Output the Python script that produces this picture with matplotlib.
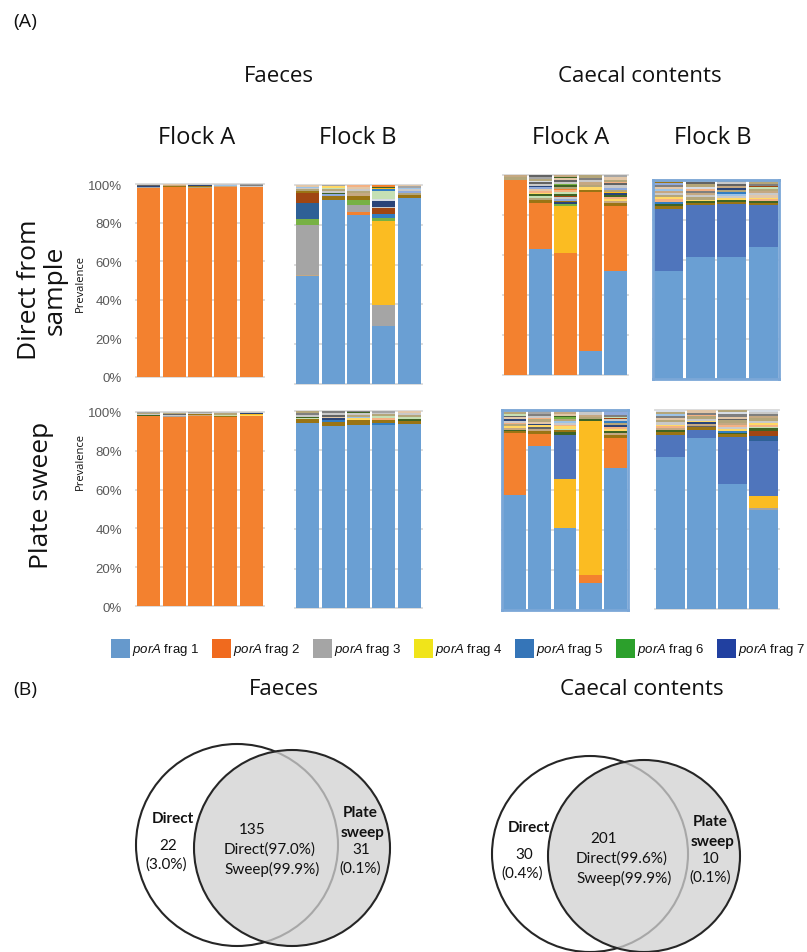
import matplotlib.pyplot as plt
from matplotlib.patches import Circle, Rectangle

plt.rcParams['mathtext.fontset'] = 'custom'
plt.rcParams['mathtext.it'] = 'Liberation Sans:italic'
plt.rcParams['mathtext.rm'] = 'Liberation Sans'

W, H = 807, 953

# porA fragment colours (Excel-style cycle), keyed by fragment number
FRAG_COLOURS = {
    1: '#6a9fd3', 2: '#f3812f', 3: '#a5a5a5', 4: '#fbbc22', 5: '#4f75bc',
    6: '#77b144', 7: '#2e6096', 8: '#a04612', 9: '#636363', 10: '#9a7414',
    11: '#2a4478', 12: '#3f6424', 13: '#9dc3e6', 14: '#f4b183', 15: '#c9c9c9',
    16: '#ffd966', 17: '#8faadc', 18: '#c5e0b4', 19: '#327dc2', 20: '#c5a882',
    21: '#b4a67a', 22: '#7f7f7f', 23: '#d6dce5', 24: '#e2c7a8',
}
LEGEND_COLOURS = ['#6699cc', '#f06a1e', '#a5a5a5', '#f0e41a', '#3575b8', '#2ca02c', '#2140a0']
LEGEND_FRAGS = [1, 2, 3, 4, 5, 6, 7]

# each bar = list of (fragment, prevalence %) from bottom to top
FAECES_A_DIRECT = [
    [(2, 97.9), (3, 0.5), (11, 0.6), (9, 0.5), (15, 0.5)],
    [(2, 98.7), (10, 0.5), (20, 0.4), (24, 0.4)],
    [(2, 98.0), (21, 0.6), (10, 0.5), (11, 0.4), (15, 0.5)],
    [(2, 98.7), (20, 0.3), (13, 0.6), (15, 0.4)],
    [(2, 98.7), (15, 0.3), (22, 0.5), (3, 0.5)],
]
FAECES_B_DIRECT = [
    [(1, 54.2), (20, 0.5), (3, 25.3), (6, 3.0), (7, 8.0), (8, 5.0), (10, 1.0),
     (21, 0.8), (15, 0.8), (13, 0.6), (24, 0.8)],
    [(1, 92.6), (10, 2.0), (17, 1.0), (12, 0.5), (15, 1.0), (21, 0.8), (18, 0.7),
     (16, 0.7), (3, 0.7)],
    [(1, 84.8), (2, 1.8), (3, 3.4), (6, 2.7), (10, 1.8), (20, 1.5), (21, 1.2),
     (15, 1.0), (24, 1.0), (14, 0.8)],
    [(1, 29.2), (3, 10.6), (4, 42.3), (6, 1.3), (19, 2.0), (8, 2.8), (15, 0.5),
     (11, 3.3), (23, 0.8), (18, 4.2), (19, 0.8), (4, 0.7), (12, 0.7), (2, 0.8)],
    [(1, 93.5), (10, 1.5), (21, 1.0), (17, 0.8), (15, 1.0), (13, 0.8), (3, 0.7),
     (24, 0.7)],
]
CAECAL_A_DIRECT = [
    [(2, 97.6), (21, 1.2), (20, 1.2)],
    [(1, 63.2), (2, 22.6), (10, 1.7), (21, 1.0), (18, 0.8), (12, 1.0), (16, 0.8),
     (14, 1.0), (24, 0.9), (17, 0.8), (11, 0.8), (15, 1.0), (9, 0.8), (23, 0.8),
     (21, 1.0), (3, 1.0), (9, 0.8)],
    [(2, 61.0), (4, 23.3), (6, 1.2), (11, 0.8), (10, 0.9), (17, 0.8), (15, 1.0),
     (8, 0.6), (12, 0.8), (18, 0.9), (14, 1.0), (2, 0.7), (21, 1.0), (12, 0.8),
     (6, 0.7), (15, 1.0), (9, 0.8), (24, 1.0), (12, 0.8), (20, 0.9)],
    [(1, 12.0), (2, 79.7), (10, 1.0), (16, 1.2), (21, 1.3), (20, 1.2), (15, 1.0),
     (22, 1.3), (21, 1.3)],
    [(1, 52.2), (2, 32.5), (10, 1.2), (20, 1.0), (16, 0.9), (14, 1.2), (12, 1.0),
     (11, 0.8), (4, 0.9), (21, 1.0), (17, 1.0), (15, 1.2), (9, 1.0), (14, 0.8),
     (21, 1.0), (24, 1.3), (3, 1.0)],
]
CAECAL_B_DIRECT = [
    [(1, 54.5), (5, 30.8), (10, 1.6), (12, 1.2), (19, 1.0), (14, 1.2), (16, 1.0),
     (21, 1.0), (15, 1.2), (20, 1.0), (13, 1.0), (24, 1.0), (22, 1.0), (17, 0.8),
     (10, 0.9), (21, 0.8)],
    [(1, 61.3), (5, 25.9), (10, 1.2), (12, 0.8), (16, 1.0), (21, 1.1), (15, 1.2),
     (20, 1.0), (22, 1.2), (14, 1.0), (23, 0.9), (21, 1.2), (9, 1.0), (24, 1.2)],
    [(1, 61.3), (5, 26.4), (10, 1.2), (12, 1.3), (16, 0.8), (15, 1.2), (13, 1.0),
     (19, 0.8), (21, 1.2), (11, 0.8), (20, 1.0), (9, 0.8), (15, 1.0), (21, 1.2)],
    [(1, 66.3), (5, 20.9), (10, 1.0), (12, 1.0), (14, 1.2), (16, 0.8), (24, 1.2),
     (15, 1.0), (20, 1.0), (21, 1.2), (18, 0.8), (8, 0.8), (22, 1.0), (21, 0.8),
     (3, 1.0)],
]
FAECES_A_SWEEP = [
    [(2, 98.1), (12, 0.4), (15, 0.6), (21, 0.5), (3, 0.4)],
    [(2, 97.3), (3, 0.8), (15, 0.5), (9, 0.4), (21, 0.5), (15, 0.5)],
    [(2, 98.1), (20, 0.4), (10, 0.5), (15, 0.5), (3, 0.5)],
    [(2, 97.3), (10, 0.6), (18, 0.8), (21, 0.7), (15, 0.6)],
    [(2, 98.1), (16, 0.6), (4, 0.4), (11, 0.5), (15, 0.4)],
]
FAECES_B_SWEEP = [
    [(1, 93.8), (10, 1.9), (18, 0.8), (12, 0.5), (15, 1.0), (22, 1.0), (21, 1.0)],
    [(1, 92.5), (10, 2.0), (19, 0.8), (11, 1.0), (24, 0.8), (9, 1.0), (15, 0.9),
     (22, 1.0)],
    [(1, 93.0), (10, 2.5), (16, 0.8), (13, 0.8), (21, 1.0), (15, 0.9), (12, 0.5),
     (22, 0.5)],
    [(1, 93.0), (19, 1.0), (10, 1.5), (14, 0.8), (18, 1.0), (21, 1.0), (15, 0.9),
     (3, 0.8)],
    [(1, 93.3), (10, 1.8), (12, 0.8), (18, 0.9), (21, 1.0), (15, 1.2), (24, 1.0)],
]
CAECAL_A_SWEEP = [
    [(1, 57.5), (2, 30.8), (10, 1.2), (12, 0.6), (20, 1.0), (16, 0.8), (21, 1.0),
     (14, 0.8), (15, 1.0), (11, 0.6), (24, 1.0), (9, 0.8), (18, 0.9), (21, 1.0),
     (15, 1.0)],
    [(1, 82.2), (2, 5.8), (10, 1.5), (20, 1.2), (9, 0.8), (16, 1.0), (11, 0.6),
     (24, 1.0), (21, 1.2), (14, 0.8), (15, 1.0), (22, 1.0), (3, 0.8), (21, 1.1)],
    [(1, 41.0), (4, 24.5), (5, 22.0), (12, 1.3), (10, 1.0), (18, 0.8), (16, 1.2),
     (14, 0.8), (15, 1.0), (13, 1.0), (21, 1.0), (6, 0.8), (12, 0.8), (24, 1.0),
     (20, 0.8), (3, 1.0)],
    [(1, 13.5), (2, 4.0), (4, 77.2), (12, 0.8), (21, 1.2), (20, 1.0), (15, 1.2),
     (10, 1.1)],
    [(1, 71.0), (2, 15.2), (10, 1.5), (20, 1.0), (12, 0.8), (16, 1.0), (14, 1.0),
     (11, 0.8), (21, 1.2), (19, 0.8), (15, 1.0), (8, 0.6), (18, 0.8), (22, 1.0),
     (17, 1.1), (21, 1.2)],
]
CAECAL_B_SWEEP = [
    [(1, 76.3), (5, 11.3), (10, 1.2), (12, 1.1), (20, 1.0), (14, 1.0), (16, 0.8),
     (15, 1.2), (21, 1.2), (24, 1.0), (22, 1.0), (13, 0.8), (21, 1.0), (23, 1.1)],
    [(1, 85.8), (5, 4.4), (10, 1.2), (9, 0.8), (20, 1.0), (11, 0.6), (16, 0.8),
     (15, 1.0), (21, 1.2), (14, 0.8), (22, 1.0), (24, 1.4)],
    [(1, 62.8), (5, 23.4), (10, 1.5), (12, 0.8), (19, 0.8), (16, 1.0), (15, 1.2),
     (14, 1.0), (20, 1.2), (21, 1.2), (9, 0.8), (24, 1.0), (22, 1.1), (23, 1.0),
     (21, 1.2)],
    [(1, 49.7), (3, 1.0), (4, 5.9), (5, 28.0), (7, 2.2), (8, 2.8), (12, 1.2),
     (18, 0.8), (14, 1.0), (16, 0.8), (15, 1.2), (21, 1.2), (20, 1.0), (22, 1.0),
     (15, 1.2), (23, 1.0)],
]

# Venn counts: (only direct, shared, only sweep) and read shares
VENN_SETS = ['Faeces', 'Caecal contents']
VENN_DIRECT_ONLY = [22, 30]
VENN_SHARED = [135, 201]
VENN_SWEEP_ONLY = [31, 10]
VENN_DIRECT_ONLY_PCT = [3.0, 0.4]
VENN_SHARED_DIRECT_PCT = [97.0, 99.6]
VENN_SHARED_SWEEP_PCT = [99.9, 99.9]
VENN_SWEEP_ONLY_PCT = [0.1, 0.1]

fig = plt.figure(figsize=(W / 100, H / 100), dpi=100)


def px_axes(left, top, right, bottom):
    """Axes placed by pixel box (origin at top-left)."""
    return fig.add_axes([left / W, 1 - bottom / H, (right - left) / W, (bottom - top) / H])


def stacked_panel(ax, bars, width=0.9, framed=False, ticks=False):
    for i, segs in enumerate(bars):
        base = 0
        for frag, val in segs:
            ax.bar(i, val, bottom=base, width=width, color=FRAG_COLOURS[frag],
                   linewidth=0, zorder=2)
            base += val
    for g in range(0, 101, 20):
        ax.axhline(g, color='#d9d9d9', lw=1.3, zorder=1, clip_on=False)
    ax.set_xlim(-0.5, len(bars) - 0.5)
    ax.set_ylim(0, 100)
    ax.set_xticks([])
    if ticks:
        ax.set_yticks(range(0, 101, 20))
        ax.set_yticklabels(['%d%%' % t for t in range(0, 101, 20)],
                           fontfamily='Liberation Sans', fontsize=9.5, color='#595959')
        ax.tick_params(axis='y', length=0, pad=10)
    else:
        ax.set_yticks([])
    for s in ax.spines.values():
        s.set_visible(framed)
        s.set_color('#7ba7d7')
        s.set_linewidth(2)
        s.set_zorder(3)
    ax.patch.set_alpha(0)


panels = [
    (FAECES_A_DIRECT, (136, 185, 264, 378), 0.91, False, True),
    (FAECES_B_DIRECT, (295, 186, 422, 385), 0.91, False, False),
    (CAECAL_A_DIRECT, (503, 176, 628, 376), 0.9, False, False),
    (CAECAL_B_DIRECT, (653, 181, 779, 380), 0.91, True, False),
    (FAECES_A_SWEEP, (136, 413, 264, 607), 0.91, False, True),
    (FAECES_B_SWEEP, (295, 412, 422, 609), 0.91, False, False),
    (CAECAL_A_SWEEP, (502, 411, 628, 611), 0.9, True, False),
    (CAECAL_B_SWEEP, (655, 411, 779, 610), 0.91, False, False),
]
for bars, box, width, framed, ticks in panels:
    stacked_panel(px_axes(*box), bars, width, framed, ticks)

# overlay in pixel coordinates for headings, legend and Venn diagrams
ov = fig.add_axes([0, 0, 1, 1], zorder=-1)
ov.set_xlim(0, W)
ov.set_ylim(H, 0)
ov.axis('off')

head = dict(fontfamily='Open Sans', color='#111111', ha='center', va='center')
ov.text(13, 22, '(A)', fontsize=14, **{**head, 'ha': 'left'})
ov.text(279, 77, 'Faeces', fontsize=16, **head)
ov.text(640, 76, 'Caecal contents', fontsize=16, **head)
for x, lab in zip([197, 358, 571, 713], ['Flock A', 'Flock B', 'Flock A', 'Flock B']):
    ov.text(x, 138, lab, fontsize=17, **head)
ov.text(42, 290, 'Direct from\nsample', fontsize=19, rotation=90, linespacing=1.05, **head)
ov.text(42, 495, 'Plate sweep', fontsize=19, rotation=90, **head)
ov.text(80, 284, 'Prevalence', fontsize=8, rotation=90, **head)
ov.text(80, 462, 'Prevalence', fontsize=8, rotation=90, **head)

# legend row
for k, (frag, col) in enumerate(zip(LEGEND_FRAGS, LEGEND_COLOURS)):
    x = 111 + k * 101
    ov.add_patch(Rectangle((x, 640), 19, 19, facecolor=col, edgecolor='none'))
    ov.text(x + 21, 650, r'$\mathit{porA}$ frag %d' % frag, fontfamily='Liberation Sans',
            fontsize=9.5, color='#111111', ha='left', va='center')

ov.text(13, 690, '(B)', fontsize=14, **{**head, 'ha': 'left'})

# Venn layout: circle centres/radii and text anchors for each sample type
venn_left = [((237, 846), 101), ((590, 855), 98)]
venn_right = [((292, 849), 98), ((644, 857), 96)]
venn_title_xy = [(284, 690), (642, 690)]
txt = dict(fontfamily='Lato', fontsize=11, color='#111111', ha='center', va='center')
for i in range(2):
    (cx, cy), r = venn_left[i]
    ov.add_patch(Circle((cx, cy), r, facecolor='white', edgecolor='#262626', lw=1.5))
    (rx, ry), rr = venn_right[i]
    ov.add_patch(Circle((rx, ry), rr, facecolor=(0.82, 0.82, 0.82, 0.76),
                        edgecolor='#262626', lw=1.5))
    ov.text(*venn_title_xy[i], VENN_SETS[i], fontsize=16, **head)

    lx = cx - r + 36
    ov.text(lx + 1, cy - 27, 'Direct', fontweight='bold', **txt)
    ov.text(lx - 4, cy, str(VENN_DIRECT_ONLY[i]), **txt)
    ov.text(lx - 6, cy + 19, '(%.1f%%)' % VENN_DIRECT_ONLY_PCT[i], **txt)

    mx = (cx + r + rx - rr) / 2 + 4
    ov.text(mx - 18, cy - 16, str(VENN_SHARED[i]), **txt)
    ov.text(mx, cy + 4, 'Direct(%.1f%%)' % VENN_SHARED_DIRECT_PCT[i], **txt)
    ov.text(mx + 2, cy + 23, 'Sweep(%.1f%%)' % VENN_SHARED_SWEEP_PCT[i], **txt)

    px = rx + rr - 30
    ov.text(px, cy - 33, 'Plate', fontweight='bold', **txt)
    ov.text(px + 3, cy - 13, 'sweep', fontweight='bold', **txt)
    ov.text(px + 1, cy + 4, str(VENN_SWEEP_ONLY[i]), **txt)
    ov.text(px, cy + 23, '(%.1f%%)' % VENN_SWEEP_ONLY_PCT[i], **txt)

fig.savefig('out.png', dpi=100)
